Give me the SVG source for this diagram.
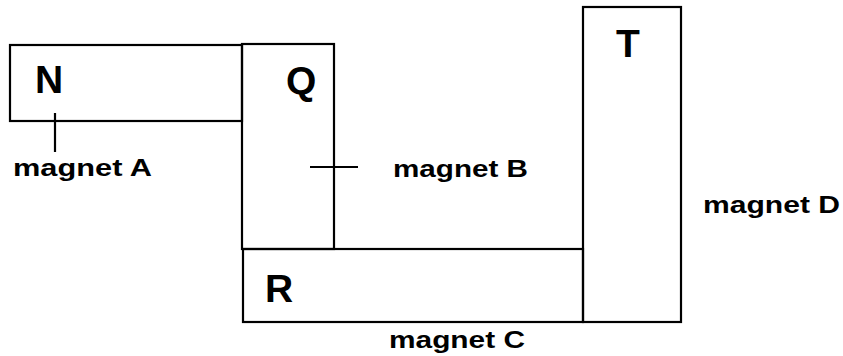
<svg xmlns="http://www.w3.org/2000/svg" width="843" height="356" viewBox="0 0 843 356">
<style>
.box{fill:none;stroke:#000;stroke-width:2.2}
.ln{stroke:#000;stroke-width:2.2;fill:none}
.big{font-family:"Liberation Sans",Arial,sans-serif;font-weight:bold;font-size:39px;fill:#000}
.lbl{font-family:"Liberation Sans",Arial,sans-serif;font-weight:bold;font-size:23px;fill:#000}
</style>
<rect width="843" height="356" fill="#fff"/>
<g id="node-N"><rect class="box" x="10" y="45" width="232" height="76"/><text class="big" x="35" y="93">N</text></g>
<g id="node-Q"><rect class="box" x="242" y="44" width="92" height="205"/><text class="big" x="286" y="94">Q</text></g>
<g id="node-R"><rect class="box" x="243" y="249" width="340" height="73"/><text class="big" x="265" y="302">R</text></g>
<g id="node-T"><rect class="box" x="583" y="7" width="98" height="315"/><text class="big" x="616" y="57">T</text></g>
<g id="connectors">
<line class="ln" x1="55" y1="113" x2="55" y2="152"/>
<line class="ln" x1="310" y1="167" x2="358" y2="167"/>
</g>
<g id="labels">
<text class="lbl" x="13" y="176" textLength="139" lengthAdjust="spacingAndGlyphs">magnet A</text>
<text class="lbl" x="393" y="177" textLength="135" lengthAdjust="spacingAndGlyphs">magnet B</text>
<text class="lbl" x="703" y="213" textLength="137" lengthAdjust="spacingAndGlyphs">magnet D</text>
<text class="lbl" x="389" y="348" textLength="136" lengthAdjust="spacingAndGlyphs">magnet C</text>
</g>
</svg>
